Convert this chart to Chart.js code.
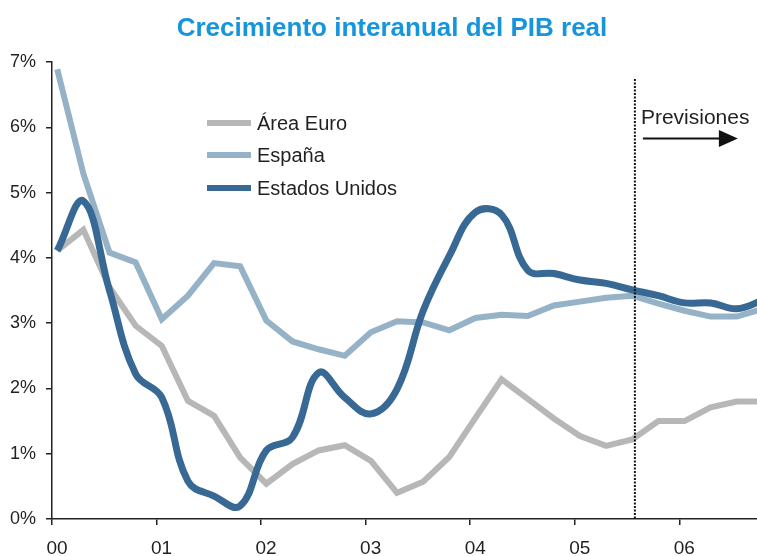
<!DOCTYPE html>
<html>
<head>
<meta charset="utf-8">
<script src="https://cdn.jsdelivr.net/npm/chart.js@4.4.0/dist/chart.umd.min.js"></script>
<style>
  body { margin: 0; background: #fff; }
  #wrap { width: 757px; height: 556px; position: relative; }
</style>
</head>
<body>
<div id="wrap"><canvas id="pib-chart"></canvas></div>
<script>
// Quarterly data, 2000 T1 .. 2006 T4 (% yoy)
const years = ['2000', '2001', '2002', '2003', '2004', '2005', '2006']
const quarterNames = ['T1', 'T2', 'T3', 'T4']

const areaEuro = [4.11, 4.43, 3.55, 2.96, 2.65, 1.81, 1.58, 0.94, 0.54, 0.84, 1.05, 1.13, 0.89, 0.40,
  0.57, 0.95, 1.55, 2.14, 1.84, 1.54, 1.27, 1.12, 1.22, 1.50, 1.50, 1.71, 1.80, 1.80]
const espana = [6.89, 5.29, 4.08, 3.93, 3.06, 3.42, 3.92, 3.87, 3.04, 2.72, 2.60, 2.50, 2.86, 3.03,
  3.01, 2.89, 3.08, 3.13, 3.11, 3.27, 3.33, 3.39, 3.42, 3.30, 3.19, 3.10, 3.10, 3.22]
const estadosUnidos = [4.11, 4.87, 3.50, 2.22, 1.86, 0.58, 0.35, 0.20, 1.05, 1.25, 2.24, 1.86, 1.61, 1.99,
  3.19, 4.03, 4.70, 4.66, 3.81, 3.76, 3.66, 3.61, 3.51, 3.42, 3.31, 3.31, 3.22, 3.35]

const xTickLabels = ['00', '01', '02', '03', '04', '05', '06']
const yTickLabels = ['0%', '1%', '2%', '3%', '4%', '5%', '6%', '7%']

// last quarter with actual data, forecasts after it
const forecastStart = 5.575

// x position of every quarter, in years since 2000
const quarterX = []
years.forEach((y, yi) => {
  quarterNames.forEach((q, qi) => {
    quarterX.push(yi + qi / 4 + 0.05)
  })
})

const toPoints = (values) => values.map((v, i) => ({ x: quarterX[i], y: v }))

const FONT = '"Liberation Sans", Arial, Helvetica, sans-serif'
const TEXT = '#231f20'

const annotations = {
  id: 'annotations',
  afterDatasetsDraw(chart) {
    const ctx = chart.ctx
    const area = chart.chartArea
    const lx = chart.scales.x.getPixelForValue(forecastStart)

    // dotted separator
    ctx.save()
    ctx.strokeStyle = '#111'
    ctx.lineWidth = 2
    ctx.setLineDash([2, 1.5])
    ctx.beginPath()
    ctx.moveTo(lx, 79)
    ctx.lineTo(lx, area.bottom)
    ctx.stroke()
    ctx.restore()
  },
  afterDraw(chart) {
    const ctx = chart.ctx
    const lx = chart.scales.x.getPixelForValue(forecastStart)
    ctx.save()

    // title
    ctx.fillStyle = '#1795dc'
    ctx.font = 'bold 26px ' + FONT
    ctx.textAlign = 'center'
    ctx.textBaseline = 'alphabetic'
    ctx.fillText('Crecimiento interanual del PIB real', 392, 36)

    // legend
    const rows = [123, 155, 188]
    chart.data.datasets.forEach((ds, i) => {
      ctx.strokeStyle = ds.borderColor
      ctx.lineWidth = 6
      ctx.beginPath()
      ctx.moveTo(207, rows[i])
      ctx.lineTo(251, rows[i])
      ctx.stroke()
      ctx.fillStyle = TEXT
      ctx.font = '20px ' + FONT
      ctx.textAlign = 'left'
      ctx.textBaseline = 'middle'
      ctx.fillText(ds.label, 257, rows[i] + 1)
    })

    // forecast label + arrow
    ctx.fillStyle = TEXT
    ctx.font = '21px ' + FONT
    ctx.textAlign = 'left'
    ctx.textBaseline = 'alphabetic'
    ctx.fillText('Previsiones', lx + 6, 124)

    ctx.strokeStyle = '#111'
    ctx.lineWidth = 2
    ctx.beginPath()
    ctx.moveTo(lx + 8, 138.5)
    ctx.lineTo(lx + 88, 138.5)
    ctx.stroke()
    ctx.fillStyle = '#111'
    ctx.beginPath()
    ctx.moveTo(lx + 84, 130)
    ctx.lineTo(lx + 103, 138.5)
    ctx.lineTo(lx + 84, 147)
    ctx.closePath()
    ctx.fill()

    ctx.restore()
  }
}

const data = {
  datasets: [{
    label: 'Área Euro',
    data: toPoints(areaEuro),
    borderColor: '#b7b7b7',
    borderWidth: 6,
    tension: 0,
    order: 3,
  }, {
    label: 'España',
    data: toPoints(espana),
    borderColor: '#96b2c7',
    borderWidth: 6,
    tension: 0,
    order: 2,
  }, {
    label: 'Estados Unidos',
    data: toPoints(estadosUnidos),
    borderColor: '#386894',
    borderWidth: 7,
    tension: 0.4,
    order: 1,
  }]
}

const options = {
  responsive: true,
  maintainAspectRatio: false,
  animation: false,
  layout: { padding: { top: 62, right: 0, left: 0, bottom: 0 } },
  elements: { point: { radius: 0 } },
  plugins: {
    legend: { display: false },
    title: { display: false },
    tooltip: { enabled: false },
  },
  scales: {
    x: {
      type: 'linear',
      min: 0,
      max: 6.743,
      afterBuildTicks: (scale) => {
        scale.ticks = xTickLabels.map((t, i) => ({ value: i }))
      },
      afterFit: (scale) => { scale.height = 37 },
      ticks: {
        callback: (value) => xTickLabels[value],
        labelOffset: 5,
        padding: 12,
        maxRotation: 0,
        color: TEXT,
        font: { family: FONT, size: 19 },
      },
      grid: { drawOnChartArea: false, tickLength: 6, color: '#222', lineWidth: 1.5 },
      border: { color: '#222', width: 1.5 },
    },
    y: {
      min: 0,
      max: 7,
      afterBuildTicks: (scale) => {
        scale.ticks = yTickLabels.map((t, i) => ({ value: i }))
      },
      afterFit: (scale) => { scale.width = 52 },
      ticks: {
        callback: (value) => yTickLabels[value],
        padding: 10,
        color: TEXT,
        font: { family: FONT, size: 18 },
      },
      grid: { drawOnChartArea: false, tickLength: 6, color: '#222', lineWidth: 1.5 },
      border: { color: '#222', width: 1.5 },
    }
  }
}

const ctx = document.getElementById('pib-chart').getContext('2d')
const pibChart = new Chart(ctx, {
  type: 'line',
  data: data,
  options: options,
  plugins: [annotations],
})
</script>
</body>
</html>
